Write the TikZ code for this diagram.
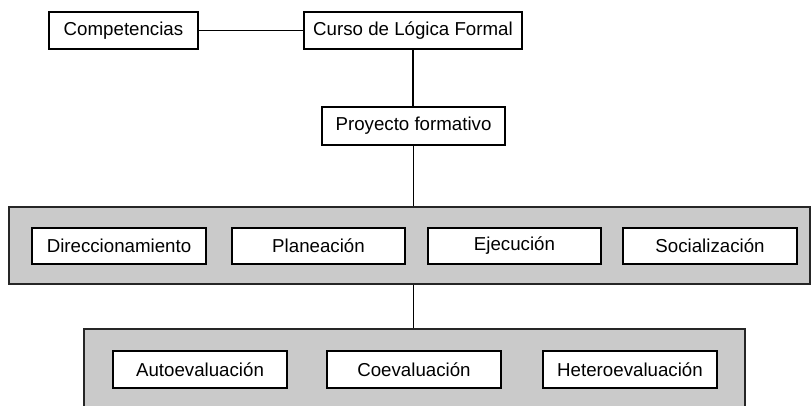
\documentclass[tikz,border=0pt]{standalone}
\usepackage{fontspec}
\setmainfont{Liberation Sans}
\usetikzlibrary{shadows}
\definecolor{bandgray}{RGB}{202,202,202}
\tikzset{
  box/.style={draw=black, fill=white, line width=1.2pt, inner sep=0pt,
    minimum height=37pt, font=\fontsize{18.7}{22}\selectfont},
  band/.style={draw=black!85, fill=bandgray, line width=1.2pt, inner sep=0pt,
    drop shadow={shadow xshift=0.8pt, shadow yshift=-1.2pt, fill=black!45, opacity=0.6}},
  link/.style={draw=black, line width=1.3pt}
}
\begin{document}
\begin{tikzpicture}[x=1pt,y=-1pt]
\useasboundingbox (0,0) rectangle (811,405);
\clip (0,0) rectangle (811,405);
% top boxes
\node[box, minimum width=149pt] (comp) at (123.5,30.5) {Competencias};
\node[box, minimum width=218pt] (curso) at (413,30.5) {Curso de Lógica Formal};
\node[box, minimum width=183pt, minimum height=38pt] (proy) at (413.5,126) {Proyecto formativo};
% bands
\node[band, minimum width=801pt, minimum height=77pt] (band1) at (409.5,245.5) {};
\node[band, minimum width=661pt, minimum height=86pt] (band2) at (414.5,372) {};
% band 1 boxes
\node[box, minimum width=174pt, minimum height=36pt] (dir) at (119,246) {Direccionamiento};
\node[box, minimum width=173pt, minimum height=36pt] (plan) at (318.5,246) {Planeación};
\node[box, minimum width=173pt, minimum height=36pt] (ejec) at (514.5,246) {Ejecución};
\node[box, minimum width=174pt, minimum height=36pt] (soc) at (710,246) {Socialización};
% band 2 boxes
\node[box, minimum width=174pt] (auto) at (200,369.5) {Autoevaluación};
\node[box, minimum width=174pt] (coev) at (414,369.5) {Coevaluación};
\node[box, minimum width=174pt] (hetero) at (630,369.5) {Heteroevaluación};
% connectors
\draw[link, line width=1.7pt] (comp.east) -- (curso.west);
\draw[link] (curso.south) -- (proy.north -| curso.south);
\draw[link] (proy.south) -- (band1.north -| proy.south);
\draw[link] (band1.south -| proy.south) -- (band2.north -| proy.south);
\end{tikzpicture}
\end{document}
